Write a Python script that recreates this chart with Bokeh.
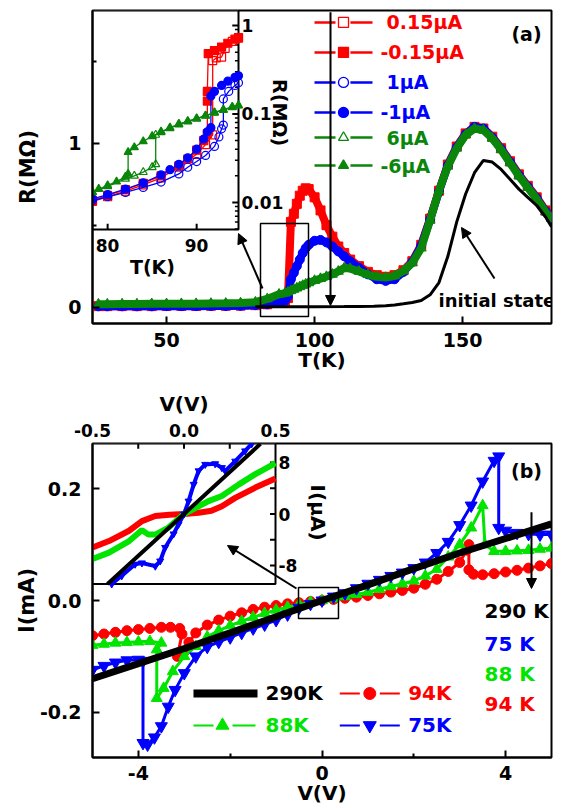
import math
from bokeh.plotting import figure
from bokeh.models import (Range1d, LogScale, FixedTicker, PrintfTickFormatter,
                          Label, Arrow, NormalHead)
from bokeh.layouts import column
from bokeh.embed import file_html
from bokeh.resources import INLINE

FONT = "DejaVu Sans"
RED = "#ff0000"
BLUE = "#0000ff"
DGREEN = "#0a860a"
LGREEN = "#00e400"
BLACK = "#000000"

# ---------------- Panel (a) main: R(MOhm) vs T(K) ----------------
T_a = [27, 30, 35, 40, 45, 50, 55, 60, 65, 70, 75, 80, 84, 88, 90, 91, 92, 93, 94, 95,
       96, 97, 98, 100, 102, 104, 106, 108, 110, 112, 115, 118, 121, 124, 127, 130, 133,
       136, 139, 142, 145, 148, 151, 154, 157, 160, 163, 166, 169, 172, 175, 178, 180]
R_red_a = [0.006, 0.006, 0.006, 0.006, 0.006, 0.007, 0.007, 0.007, 0.008, 0.008, 0.009,
           0.012, 0.017, 0.026, 0.039, 0.055, 0.52, 0.57, 0.63, 0.68, 0.71, 0.725, 0.72,
           0.67, 0.59, 0.50, 0.43, 0.37, 0.33, 0.29, 0.25, 0.215, 0.195, 0.185, 0.195,
           0.225, 0.28, 0.38, 0.54, 0.71, 0.87, 0.98, 1.06, 1.10, 1.09, 1.04, 0.97, 0.89,
           0.81, 0.74, 0.67, 0.59, 0.55]
R_blue_a = [0.005, 0.005, 0.005, 0.005, 0.005, 0.006, 0.006, 0.006, 0.007, 0.007, 0.008,
            0.012, 0.017, 0.027, 0.040, 0.065, 0.17, 0.21, 0.25, 0.29, 0.33, 0.36, 0.38,
            0.405, 0.41, 0.395, 0.37, 0.34, 0.31, 0.28, 0.24, 0.20, 0.17, 0.16, 0.17,
            0.215, 0.275, 0.375, 0.535, 0.705, 0.865, 0.975, 1.055, 1.10, 1.09, 1.035,
            0.965, 0.885, 0.805, 0.735, 0.665, 0.585, 0.545]
R_green_a = [0.018, 0.018, 0.019, 0.019, 0.020, 0.020, 0.021, 0.021, 0.022, 0.023, 0.025,
             0.030, 0.050, 0.078, 0.085, 0.092, 0.100, 0.108, 0.116, 0.124, 0.132, 0.140,
             0.148, 0.162, 0.174, 0.186, 0.200, 0.218, 0.238, 0.235, 0.218, 0.198, 0.185,
             0.180, 0.190, 0.220, 0.270, 0.360, 0.530, 0.710, 0.860, 0.970, 1.050, 1.090,
             1.080, 1.030, 0.960, 0.880, 0.800, 0.730, 0.660, 0.580, 0.540]
T_init = [80, 90, 100, 110, 115, 120, 124, 127, 130, 133, 136, 139, 142, 145, 148, 151,
          154, 157, 160, 163, 166, 169, 172, 175, 178, 180]
R_init = [0.002, 0.002, 0.002, 0.003, 0.004, 0.006, 0.009, 0.013, 0.020, 0.028, 0.040,
          0.075, 0.150, 0.310, 0.520, 0.690, 0.820, 0.895, 0.885, 0.840, 0.780, 0.720,
          0.670, 0.620, 0.550, 0.490]

# ---------------- Panel (a) inset: log R vs T ----------------
T_in_p015 = [78.3, 80, 82, 84, 86, 88, 90, 91, 91.8, 91.8, 92.2, 92.8, 93.2, 94.0, 94.7]
R_in_p015 = [0.0103, 0.0116, 0.0134, 0.0158, 0.019, 0.025, 0.035, 0.045, 0.058, 0.40,
             0.43, 0.44, 0.55, 0.66, 0.72]
T_in_m015 = [78.3, 80, 82, 84, 86, 88, 89, 90, 90.8, 91.2, 91.2, 91.2, 91.3, 92, 92.8,
             93.5, 94.3, 94.7]
R_in_m015 = [0.0105, 0.012, 0.014, 0.0165, 0.020, 0.026, 0.031, 0.039, 0.050, 0.060,
             0.14, 0.18, 0.48, 0.52, 0.57, 0.63, 0.70, 0.73]
T_in_p1 = [78.3, 80, 82, 84, 86, 88, 89, 90, 91, 92, 92.5, 92.8, 93.0, 93.0, 93.6, 94.3, 94.7]
R_in_p1 = [0.0105, 0.0116, 0.013, 0.0148, 0.017, 0.021, 0.025, 0.029, 0.034, 0.043,
           0.055, 0.068, 0.075, 0.148, 0.18, 0.21, 0.225]
T_in_m1 = [78.3, 80, 82, 84, 86, 87, 88, 89, 90, 90.8, 91.2, 91.6, 91.6, 92, 92.8, 93.5,
           94.3, 94.7]
R_in_m1 = [0.011, 0.0123, 0.0142, 0.0167, 0.0205, 0.0235, 0.027, 0.032, 0.040, 0.052,
           0.063, 0.070, 0.16, 0.18, 0.21, 0.235, 0.26, 0.27]
T_in_p6 = [78.3, 80, 82, 83, 84, 85, 85.4, 85.4, 86, 87, 88, 89, 90, 91, 92, 93, 94, 94.7]
R_in_p6 = [0.013, 0.0152, 0.0185, 0.020, 0.022, 0.025, 0.027, 0.058, 0.062, 0.069, 0.076,
           0.082, 0.088, 0.095, 0.103, 0.111, 0.119, 0.124]
T_in_m6 = [78.3, 79, 80, 81, 82, 82.3, 82.3, 83, 84, 85, 86, 87, 88, 89, 90, 91, 92, 93,
           94, 94.7]
R_in_m6 = [0.0131, 0.0142, 0.0156, 0.0172, 0.0195, 0.021, 0.037, 0.042, 0.049, 0.056,
           0.063, 0.070, 0.077, 0.083, 0.089, 0.096, 0.104, 0.112, 0.120, 0.125]

legend_a_labels = ["0.15\u03bcA", "-0.15\u03bcA", "1\u03bcA", "-1\u03bcA", "6\u03bcA", "-6\u03bcA"]

# ---------------- Panel (b) main: I(mA) vs V(V) ----------------
V_290 = [-5, -4, -3, -2, -1, 0, 1, 2, 3, 4, 5]
I_290 = [-0.140, -0.113, -0.086, -0.058, -0.029, 0.0, 0.028, 0.057, 0.085, 0.111, 0.137]
V_94 = [-5.0, -4.75, -4.5, -4.25, -4.0, -3.75, -3.5, -3.3, -3.1, -3.05, -3.15, -3.0, -2.9,
        -2.75, -2.5, -2.25, -2.0, -1.75, -1.5, -1.25, -1.0, -0.75, -0.5, -0.25, 0.0, 0.25,
        0.5, 0.75, 1.0, 1.25, 1.5, 1.75, 2.0, 2.25, 2.5, 2.75, 3.0, 3.15, 3.2, 3.2, 3.3,
        3.5, 3.75, 4.0, 4.25, 4.5, 4.75, 5.0]
I_94 = [-0.063, -0.060, -0.057, -0.054, -0.052, -0.050, -0.048, -0.048, -0.050, -0.060,
        -0.100, -0.092, -0.075, -0.058, -0.044, -0.035, -0.028, -0.022, -0.016, -0.012,
        -0.009, -0.006, -0.004, -0.002, 0.0, 0.002, 0.004, 0.006, 0.009, 0.012, 0.015,
        0.018, 0.022, 0.029, 0.038, 0.052, 0.068, 0.090, 0.100, 0.055, 0.047, 0.046, 0.048,
        0.051, 0.054, 0.058, 0.062, 0.066]
V_88 = [-5.0, -4.75, -4.5, -4.25, -4.0, -3.75, -3.5, -3.6, -3.6, -3.45, -3.25, -3.0, -2.75,
        -2.5, -2.25, -2.0, -1.75, -1.5, -1.25, -1.0, -0.75, -0.5, -0.25, 0.0, 0.25, 0.5,
        0.75, 1.0, 1.25, 1.5, 1.75, 2.0, 2.25, 2.5, 2.75, 3.0, 3.25, 3.5, 3.55, 3.75, 4.0,
        4.25, 4.5, 4.75, 5.0]
I_88 = [-0.080, -0.078, -0.076, -0.075, -0.074, -0.073, -0.076, -0.088, -0.175, -0.157,
        -0.127, -0.100, -0.082, -0.065, -0.054, -0.045, -0.037, -0.030, -0.023, -0.017,
        -0.012, -0.007, -0.003, 0.0, 0.003, 0.007, 0.011, 0.015, 0.020, 0.025, 0.030,
        0.035, 0.044, 0.056, 0.078, 0.100, 0.130, 0.170, 0.100, 0.088, 0.088, 0.089, 0.090,
        0.092, 0.094]
V_75 = [-5.0, -4.75, -4.5, -4.25, -4.0, -3.9, -3.9, -3.8, -3.65, -3.5, -3.35, -3.2, -3.0,
        -2.75, -2.5, -2.25, -2.0, -1.75, -1.5, -1.25, -1.0, -0.75, -0.5, -0.25, 0.0, 0.25,
        0.5, 0.75, 1.0, 1.25, 1.5, 1.75, 2.0, 2.25, 2.5, 2.75, 3.0, 3.25, 3.5, 3.75, 3.85,
        3.85, 4.0, 4.25, 4.5, 4.75, 5.0]
I_75 = [-0.124, -0.117, -0.111, -0.107, -0.106, -0.108, -0.255, -0.258, -0.245, -0.225,
        -0.190, -0.160, -0.130, -0.100, -0.083, -0.074, -0.066, -0.058, -0.050, -0.043,
        -0.035, -0.025, -0.013, -0.006, 0.0, 0.007, 0.013, 0.022, 0.030, 0.037, 0.044,
        0.050, 0.058, 0.068, 0.085, 0.105, 0.135, 0.170, 0.213, 0.250, 0.258, 0.130, 0.125,
        0.121, 0.119, 0.118, 0.118]

# ---------------- Panel (b) inset: I(uA) vs V(V) ----------------
Vin_290 = [-0.418, 0.0, 0.418]
Iin_290 = [-10.87, 0.0, 10.9]
Vin_94 = [-0.5, -0.41, -0.3, -0.23, -0.157, -0.08, 0.0, 0.08, 0.15, 0.207, 0.28, 0.39, 0.5]
Iin_94 = [-5.2, -4.2, -2.6, -1.1, -0.3, -0.1, 0.0, 0.2, 0.5, 1.2, 2.5, 4.1, 5.5]
Vin_88 = [-0.5, -0.41, -0.3, -0.25, -0.23, -0.194, -0.157, -0.085, 0.0, 0.08, 0.134,
          0.207, 0.30, 0.39, 0.5]
Iin_88 = [-7.0, -6.0, -4.2, -3.0, -2.5, -3.2, -3.2, -2.1, 0.0, 1.2, 2.0, 2.8, 4.6, 6.2, 7.9]
Vin_75 = [-0.395, -0.34, -0.267, -0.23, -0.157, -0.13, -0.103, -0.057, -0.03, 0.0, 0.025,
          0.053, 0.08, 0.116, 0.17, 0.207, 0.225, 0.28, 0.334, 0.37]
Iin_75 = [-10.87, -9.6, -7.8, -7.6, -8.1, -7.3, -5.2, -3.1, -1.6, 0.0, 2.0, 4.6, 6.7, 7.7,
          7.8, 7.2, 6.7, 8.2, 9.8, 10.9]

inset_b_xticks = [-0.5, 0.0, 0.5]
inset_b_xlabels = ["-0.5", "0.0", "0.5"]
side_labels_b = ["290 K", "75 K", "88 K", "94 K"]

# ---------------- helpers ----------------
def ext_range(lo, hi, f0, f1):
    span = (hi - lo) / (f1 - f0)
    start = lo - f0 * span
    return start, start + span


def style_axis(ax, size="19px"):
    ax.axis_line_width = 2
    ax.major_tick_line_width = 2
    ax.minor_tick_line_width = 2
    ax.major_tick_in = 7
    ax.major_tick_out = 0
    ax.minor_tick_in = 4
    ax.minor_tick_out = 0
    ax.major_label_text_font = FONT
    ax.major_label_text_font_style = "bold"
    ax.major_label_text_font_size = size
    ax.major_label_text_color = "black"
    ax.axis_label_text_font = FONT
    ax.axis_label_text_font_style = "bold"
    ax.axis_label_text_color = "black"


def style(p):
    p.outline_line_color = "black"
    p.outline_line_width = 2
    p.outline_line_alpha = 1.0
    p.xgrid.visible = False
    p.ygrid.visible = False
    p.background_fill_color = "white"
    p.border_fill_color = "white"
    for ax in p.axis:
        style_axis(ax)


def lab(p, x, y, text, size, color="black", align="left", angle=0.0, baseline="middle"):
    p.add_layout(Label(x=x, y=y, text=text, text_font=FONT, text_font_size=size,
                       text_font_style="bold", text_color=color, text_align=align,
                       text_baseline=baseline, angle=angle))


def arrow(p, x0, y0, x1, y1, size=10):
    p.add_layout(Arrow(end=NormalHead(size=size, fill_color="black", line_color="black",
                                      line_width=1),
                       x_start=x0, y_start=y0, x_end=x1, y_end=y1,
                       line_color="black", line_width=2))


# ======================= PANEL (a) =======================
pa = figure(width=554, height=386, x_range=Range1d(25, 180), y_range=Range1d(-0.1, 1.81),
            output_backend="svg", toolbar_location=None,
            min_border_left=92, min_border_right=3, min_border_top=10, min_border_bottom=63,
            x_axis_label="T(K)", y_axis_label="R(M\u03a9)")
style(pa)
pa.xaxis.ticker = FixedTicker(ticks=[50, 100, 150], minor_ticks=[])
pa.yaxis.ticker = FixedTicker(ticks=[0, 1], minor_ticks=[0.5, 1.5])
pa.xaxis.major_label_standoff = 9
pa.xaxis.axis_label_standoff = -2
pa.xaxis.axis_label_text_font_size = "20px"
pa.yaxis.major_label_standoff = 11
pa.yaxis.axis_label_standoff = 25
pa.yaxis.axis_label_text_font_size = "21px"

INA_T = (78.3, 94.7)
INA_R = (0.00495, 1.477)
ia_fx = (0.0, 146 / 459)
ia_fy = (94 / 313, 1.0)
ia_x = ext_range(INA_T[0], INA_T[1], *ia_fx)
ly = ext_range(math.log10(INA_R[0]), math.log10(INA_R[1]), *ia_fy)
pa.extra_x_ranges = {"ia": Range1d(*ia_x)}
pa.extra_y_ranges = {"ia": Range1d(10 ** ly[0], 10 ** ly[1])}
pa.extra_y_scales = {"ia": LogScale()}
IA = dict(x_range_name="ia", y_range_name="ia")

pa.line(T_a, R_red_a, line_color=RED, line_width=8)
pa.scatter(T_a, R_red_a, marker="square", size=9, fill_color=RED, line_color=RED)
pa.line(T_a, R_blue_a, line_color=BLUE, line_width=8)
pa.scatter(T_a, R_blue_a, marker="circle", size=9, fill_color=BLUE, line_color=BLUE)
pa.line(T_a, R_green_a, line_color=DGREEN, line_width=8)
pa.scatter(T_a, R_green_a, marker="triangle", size=10, fill_color=DGREEN, line_color=DGREEN)
pa.line(T_init, R_init, line_color=BLACK, line_width=3)

pa.quad(left=INA_T[0], right=INA_T[1], bottom=INA_R[0], top=INA_R[1],
        fill_color="white", line_color="black", line_width=2, **IA)
maj_r = [0.01, 0.1, 1.0]
min_r = [k * 10.0 ** e for e in (-3, -2, -1, 0) for k in range(2, 10)
         if INA_R[0] < k * 10.0 ** e < INA_R[1]]
pa.segment(x0=[INA_T[1]] * len(maj_r), y0=maj_r, x1=[INA_T[1] - 0.7] * len(maj_r), y1=maj_r,
           line_color="black", line_width=2, **IA)
pa.segment(x0=[INA_T[1]] * len(min_r), y0=min_r, x1=[INA_T[1] - 0.4] * len(min_r), y1=min_r,
           line_color="black", line_width=1.5, **IA)
in_a_xt = [80, 90]
pa.segment(x0=in_a_xt, y0=[INA_R[0]] * 2, x1=in_a_xt, y1=[INA_R[0] * 1.16] * 2,
           line_color="black", line_width=2, **IA)

inset_a = [
    (T_in_p015, R_in_p015, RED, "square", False),
    (T_in_m015, R_in_m015, RED, "square", True),
    (T_in_p1, R_in_p1, BLUE, "circle", False),
    (T_in_m1, R_in_m1, BLUE, "circle", True),
    (T_in_p6, R_in_p6, DGREEN, "triangle", False),
    (T_in_m6, R_in_m6, DGREEN, "triangle", True),
]
for tx, ry, col, mk, filled in inset_a:
    pa.line(tx, ry, line_color=col, line_width=1.3, **IA)
    pa.scatter(tx, ry, marker=mk, size=8, line_color=col, line_width=1.2,
               fill_color=col if filled else "white", fill_alpha=1.0 if filled else 0.0, **IA)

lab(pa, 30.07, 0.376, "80", "17px", align="center")
lab(pa, 60.12, 0.376, "90", "17px", align="center")
lab(pa, 45.26, 0.242, "T(K)", "19px", align="center")
lab(pa, 75.3, 1.718, "1", "17px")
lab(pa, 75.3, 1.181, "0.1", "17px")
lab(pa, 75.3, 0.638, "0.01", "17px")
lab(pa, 88.15, 1.187, "R(M\u03a9)", "19px", align="center", angle=-math.pi / 2)

pa.quad(left=81.73, right=97.94, bottom=-0.057, top=0.51, fill_alpha=0.0,
        line_color="black", line_width=1.5)
arrow(pa, 82.41, 0.1135, 74.3, 0.449)
arrow(pa, 105.37, 1.80, 105.37, 0.01)
arrow(pa, 160.75, 0.1745, 149.61, 0.486)
lab(pa, 141.84, 0.04, "initial state", "18px")
lab(pa, 171.56, 1.669, "(a)", "19px", align="center")

leg_rows = [1.737, 1.554, 1.371, 1.188, 1.035, 0.864]
leg_cols = [RED, RED, BLUE, BLUE, DGREEN, DGREEN]
leg_mk = ["square", "square", "circle", "circle", "triangle", "triangle"]
leg_fill = [False, True, False, True, False, True]
for i, txt in enumerate(legend_a_labels):
    y = leg_rows[i]
    c = leg_cols[i]
    pa.segment(x0=[99.97, 112.1], y0=[y, y], x1=[107.06, 119.55], y1=[y, y],
               line_color=c, line_width=2.5)
    pa.scatter([109.76], [y], marker=leg_mk[i], size=10, line_color=c, line_width=1.3,
               fill_color=c if leg_fill[i] else "white")
    lab(pa, 122.25 if txt.startswith("-") else 124.3, y, txt, "19px", color=c)

# ============ header strip above panel (b): inset top-axis labels ============
HB_W, HB_H = 554, 56
hb = figure(width=HB_W, height=HB_H, output_backend="svg", toolbar_location=None,
            x_range=Range1d(*ext_range(-0.5, 0.5, 92 / HB_W, 275 / HB_W)),
            y_range=Range1d(0, HB_H), min_border=0,
            x_axis_location=None, y_axis_location=None)
try:
    hb.frame_align = False
except Exception:
    pass
hb.outline_line_color = None
hb.xgrid.visible = False
hb.ygrid.visible = False
hb.background_fill_color = "white"
hb.border_fill_color = "white"
for xv, tl in zip(inset_b_xticks, inset_b_xlabels):
    lab(hb, xv, 12, tl, "17px", align="center")
lab(hb, 0.0, 39, "V(V)", "20px", align="center")

# ======================= PANEL (b) =======================
pb = figure(width=554, height=366, x_range=Range1d(-5, 5), y_range=Range1d(-0.281, 0.281),
            output_backend="svg", toolbar_location=None,
            min_border_left=92, min_border_right=3, min_border_top=1, min_border_bottom=51,
            x_axis_label="V(V)", y_axis_label="I(mA)")
style(pb)
pb.xaxis.ticker = FixedTicker(ticks=[-4, 0, 4], minor_ticks=[-2, 2])
pb.xaxis.formatter = PrintfTickFormatter(format="%d")
pb.yaxis.ticker = FixedTicker(ticks=[-0.2, 0.0, 0.2], minor_ticks=[])
pb.yaxis.formatter = PrintfTickFormatter(format="%.1f")
pb.xaxis.major_label_standoff = 8
pb.xaxis.axis_label_standoff = -2
pb.xaxis.axis_label_text_font_size = "20px"
pb.yaxis.major_label_standoff = 11
pb.yaxis.axis_label_standoff = -2
pb.yaxis.axis_label_text_font_size = "21px"

INB_V = (-0.5, 0.5)
INB_I = (-10.87, 10.95)
ib_fx = (0.0, 183 / 459)
ib_fy = (173.5 / 314, 1.0)
pb.extra_x_ranges = {"ib": Range1d(*ext_range(INB_V[0], INB_V[1], *ib_fx))}
pb.extra_y_ranges = {"ib": Range1d(*ext_range(INB_I[0], INB_I[1], *ib_fy))}
IB = dict(x_range_name="ib", y_range_name="ib")

pb.line(V_94, I_94, line_color=RED, line_width=3)
pb.scatter(V_94, I_94, marker="circle", size=10, fill_color=RED, line_color=RED)
pb.line(V_88, I_88, line_color=LGREEN, line_width=3)
pb.scatter(V_88, I_88, marker="triangle", size=11, fill_color=LGREEN, line_color=LGREEN)
pb.line(V_75, I_75, line_color=BLUE, line_width=3)
pb.scatter(V_75, I_75, marker="inverted_triangle", size=12, fill_color=BLUE, line_color=BLUE)
pb.line(V_290, I_290, line_color=BLACK, line_width=7)

pb.quad(left=INB_V[0], right=INB_V[1], bottom=INB_I[0], top=INB_I[1],
        fill_color="white", line_color="black", line_width=2, **IB)
in_b_xt = [-0.25, 0.0, 0.25]
pb.segment(x0=in_b_xt, y0=[INB_I[1]] * 3, x1=in_b_xt, y1=[INB_I[1] - 0.8] * 3,
           line_color="black", line_width=2, **IB)
in_b_yt = [-8, -4, 0, 4, 8]
pb.segment(x0=[INB_V[1]] * 5, y0=in_b_yt, x1=[INB_V[1] - 0.03] * 5, y1=in_b_yt,
           line_color="black", line_width=2, **IB)
pb.line(Vin_94, Iin_94, line_color=RED, line_width=6, **IB)
pb.line(Vin_88, Iin_88, line_color=LGREEN, line_width=6, **IB)
pb.line(Vin_75, Iin_75, line_color=BLUE, line_width=4, **IB)
pb.scatter(Vin_75, Iin_75, marker="inverted_triangle", size=7, fill_color=BLUE,
           line_color=BLUE, **IB)
pb.line(Vin_290, Iin_290, line_color=BLACK, line_width=4, **IB)

lab(pb, -0.948, 0.2469, "8", "17px")
lab(pb, -0.948, 0.1547, "0", "17px")
lab(pb, -0.948, 0.0626, "-8", "17px")
lab(pb, -0.098, 0.1574, "I(\u03bcA)", "20px", align="center", angle=-math.pi / 2)

pb.quad(left=-0.512, right=0.359, bottom=-0.0322, top=0.0233, fill_alpha=0.0,
        line_color="black", line_width=1.5)
arrow(pb, -0.556, 0.0215, -2.059, 0.0984)
arrow(pb, 4.564, 0.158, 4.564, 0.0215)
lab(pb, 4.455, 0.2326, "(b)", "19px", align="center")
side_cols = [BLACK, BLUE, LGREEN, RED]
side_y = [-0.0179, -0.0775, -0.1311, -0.1848]
for t, c, y in zip(side_labels_b, side_cols, side_y):
    lab(pb, 3.54, y, t, "20px", color=c)

r1, r2 = -0.1664, -0.2236
pb.segment(x0=[-2.80], y0=[r1], x1=[-1.405], y1=[r1], line_color=BLACK, line_width=8)
lab(pb, -1.231, r1, "290K", "20px")
pb.segment(x0=[-2.80, -1.95], y0=[r2, r2], x1=[-2.364, -1.449], y1=[r2, r2],
           line_color=LGREEN, line_width=2)
pb.scatter([-2.168], [r2], marker="triangle", size=13, fill_color=LGREEN, line_color=LGREEN)
lab(pb, -1.231, r2, "88K", "20px", color=LGREEN)
pb.segment(x0=[0.388, 1.259], y0=[r1, r1], x1=[0.824, 1.695], y1=[r1, r1],
           line_color=RED, line_width=2)
pb.scatter([1.041], [r1], marker="circle", size=12, fill_color=RED, line_color=RED)
lab(pb, 1.878, r1, "94K", "20px", color=RED)
pb.segment(x0=[0.388, 1.259], y0=[r2, r2], x1=[0.824, 1.695], y1=[r2, r2],
           line_color=BLUE, line_width=2)
pb.scatter([1.041], [r2], marker="inverted_triangle", size=13, fill_color=BLUE,
           line_color=BLUE)
lab(pb, 1.878, r2, "75K", "20px", color=BLUE)

layout = column(pa, hb, pb)
open("out.html", "w").write(file_html(layout, INLINE))
